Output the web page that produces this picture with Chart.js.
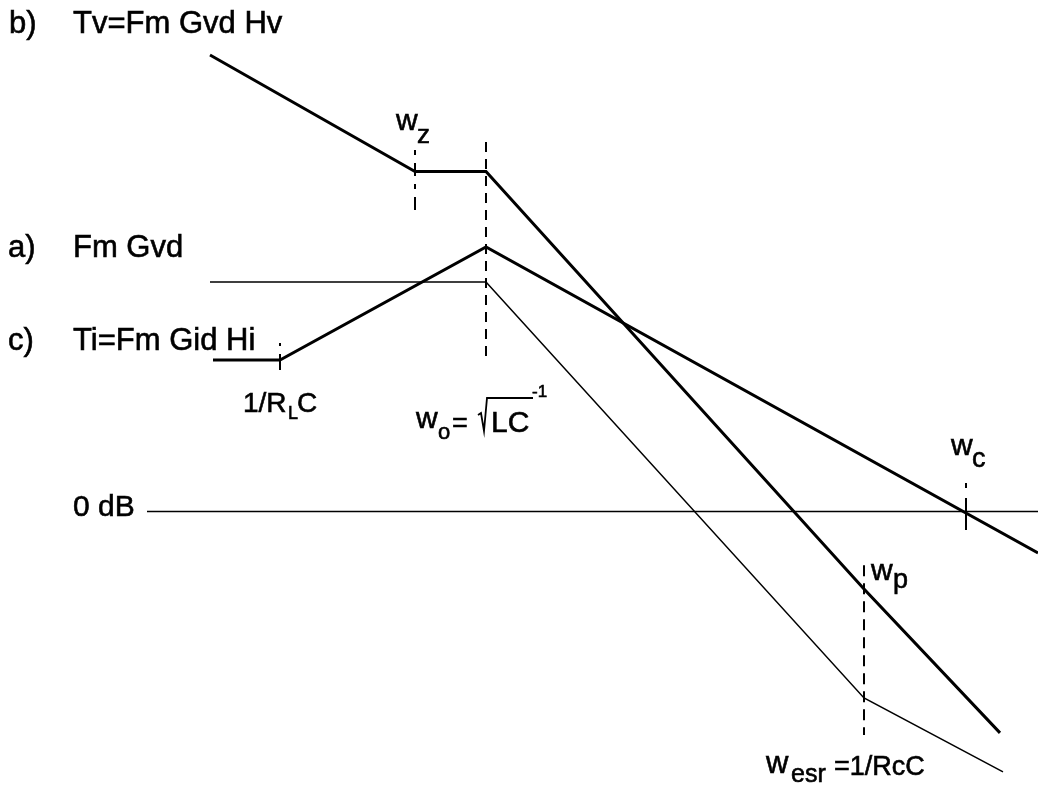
<!DOCTYPE html>
<html>
<head>
<meta charset="utf-8">
<title>Bode asymptotes</title>
<script src="https://cdn.jsdelivr.net/npm/chart.js@4.4.1/dist/chart.umd.min.js"></script>
<style>
  body { margin: 0; background: #fff; }
  #wrap { width: 1038px; height: 792px; position: relative; }
</style>
</head>
<body>
<div id="wrap"><canvas id="bode"></canvas></div>
<script>
// x = log10(w) in decades (w_o at 0), y = gain in dB
const tvX = [-2.76, -0.71, 0, 3.78, 5.14];
const tvY = [166, 123.6, 123.6, -28.2, -80.5];

const gvdX = [-2.76, 0, 3.78, 5.17];
const gvdY = [83.5, 83.5, -67.8, -94.7];

const tiX = [-2.73, -2.06, 0, 5.52];
const tiY = [55.1, 55.1, 96.2, -15.1];

const zeroX = [-3.39, 5.52];
const zeroY = [0, 0];

// break frequency markers: 1/RLC, w_z, w_o, w_esr/w_p, w_c
const markX = [-2.06, -0.71, 0, 3.78, 4.80];
const markTop = [61.3, 131.5, 134.4, -19.5, 10.4];
const markBottom = [51.5, 109.6, 55.1, -81.3, -6.7];
const markDash = [[3, 8, 16, 8], [5, 8, 13, 8], [10, 7], [11, 7], [5, 10, 40, 4]];

const pts = (xs, ys) => xs.map((x, i) => ({ x: x, y: ys[i] }));

const lineSet = (data, width, dash) => ({
    data: data,
    showLine: true,
    borderColor: "#000",
    borderWidth: width,
    borderDash: dash || [],
    pointRadius: 0,
    fill: false,
    tension: 0,
    borderCapStyle: "butt",
    borderJoinStyle: "miter",
    clip: false,
});

const datasets = [
    lineSet(pts(zeroX, zeroY), 1.6),
    lineSet(pts(gvdX, gvdY), 1.5),
    lineSet(pts(tiX, tiY), 3),
    lineSet(pts(tvX, tvY), 3),
];
markX.forEach((x, i) => {
    datasets.push(lineSet([{ x: x, y: markTop[i] }, { x: x, y: markBottom[i] }], 2, markDash[i]));
});

// text labels, drawn on top
const labelPlugin = {
    id: "labels",
    afterDatasetsDraw(chart) {
        const ctx = chart.ctx;
        const F = "'Liberation Sans', Arial, sans-serif";
        const t = (s, x, y, size) => {
            ctx.font = size + "px " + F;
            ctx.fillText(s, x, y);
            ctx.strokeText(s, x, y); // the scanned original is a bit heavier
        };
        ctx.save();
        ctx.fillStyle = "#000";
        ctx.strokeStyle = "#000";
        ctx.lineWidth = 0.6;
        ctx.textBaseline = "alphabetic";
        ctx.textAlign = "left";

        t("b)", 9, 33, 31);
        t("Tv=Fm Gvd Hv", 73, 33, 31);
        t("a)", 8, 257, 31);
        t("Fm Gvd", 73, 257, 31);
        t("c)", 8, 350, 31);
        t("Ti=Fm Gid Hi", 73, 350, 31);
        t("0 dB", 73, 516, 30);

        // 1/RLC
        t("1/R", 243, 412, 28);
        t("L", 288, 419, 18);
        t("C", 297, 412, 28);

        // w_z
        t("w", 396, 130, 30);
        t("z", 417, 143, 26);

        // w_o = sqrt(LC)^-1
        t("w", 416, 428, 30);
        t("o", 438, 439, 22);
        t("=", 452, 432, 27);
        ctx.lineWidth = 1.8;
        ctx.beginPath();
        ctx.moveTo(478, 415);
        ctx.lineTo(481, 413);
        ctx.lineTo(484, 431);
        ctx.lineTo(487, 398);
        ctx.lineTo(533, 398);
        ctx.stroke();
        ctx.lineWidth = 0.6;
        t("LC", 491, 432, 30);
        t("-1", 532, 397, 17);

        // w_c
        t("w", 951, 455, 30);
        t("c", 972, 467, 27);

        // w_p
        t("w", 871, 580, 30);
        t("p", 893, 588, 27);

        // w_esr
        t("w", 766, 773, 31);
        t("esr", 791, 782, 25);
        t("=1/RcC", 834, 775, 27);

        ctx.restore();
    },
};

new Chart(document.getElementById("bode"), {
    type: "scatter",
    data: { datasets: datasets },
    options: {
        responsive: true,
        maintainAspectRatio: false,
        animation: false,
        layout: { padding: 0 },
        plugins: { legend: { display: false }, tooltip: { enabled: false } },
        scales: {
            x: { type: "linear", display: false, min: -4.86, max: 5.52 },
            y: { type: "linear", display: false, min: -102, max: 186 },
        },
    },
    plugins: [labelPlugin],
});
</script>
</body>
</html>
